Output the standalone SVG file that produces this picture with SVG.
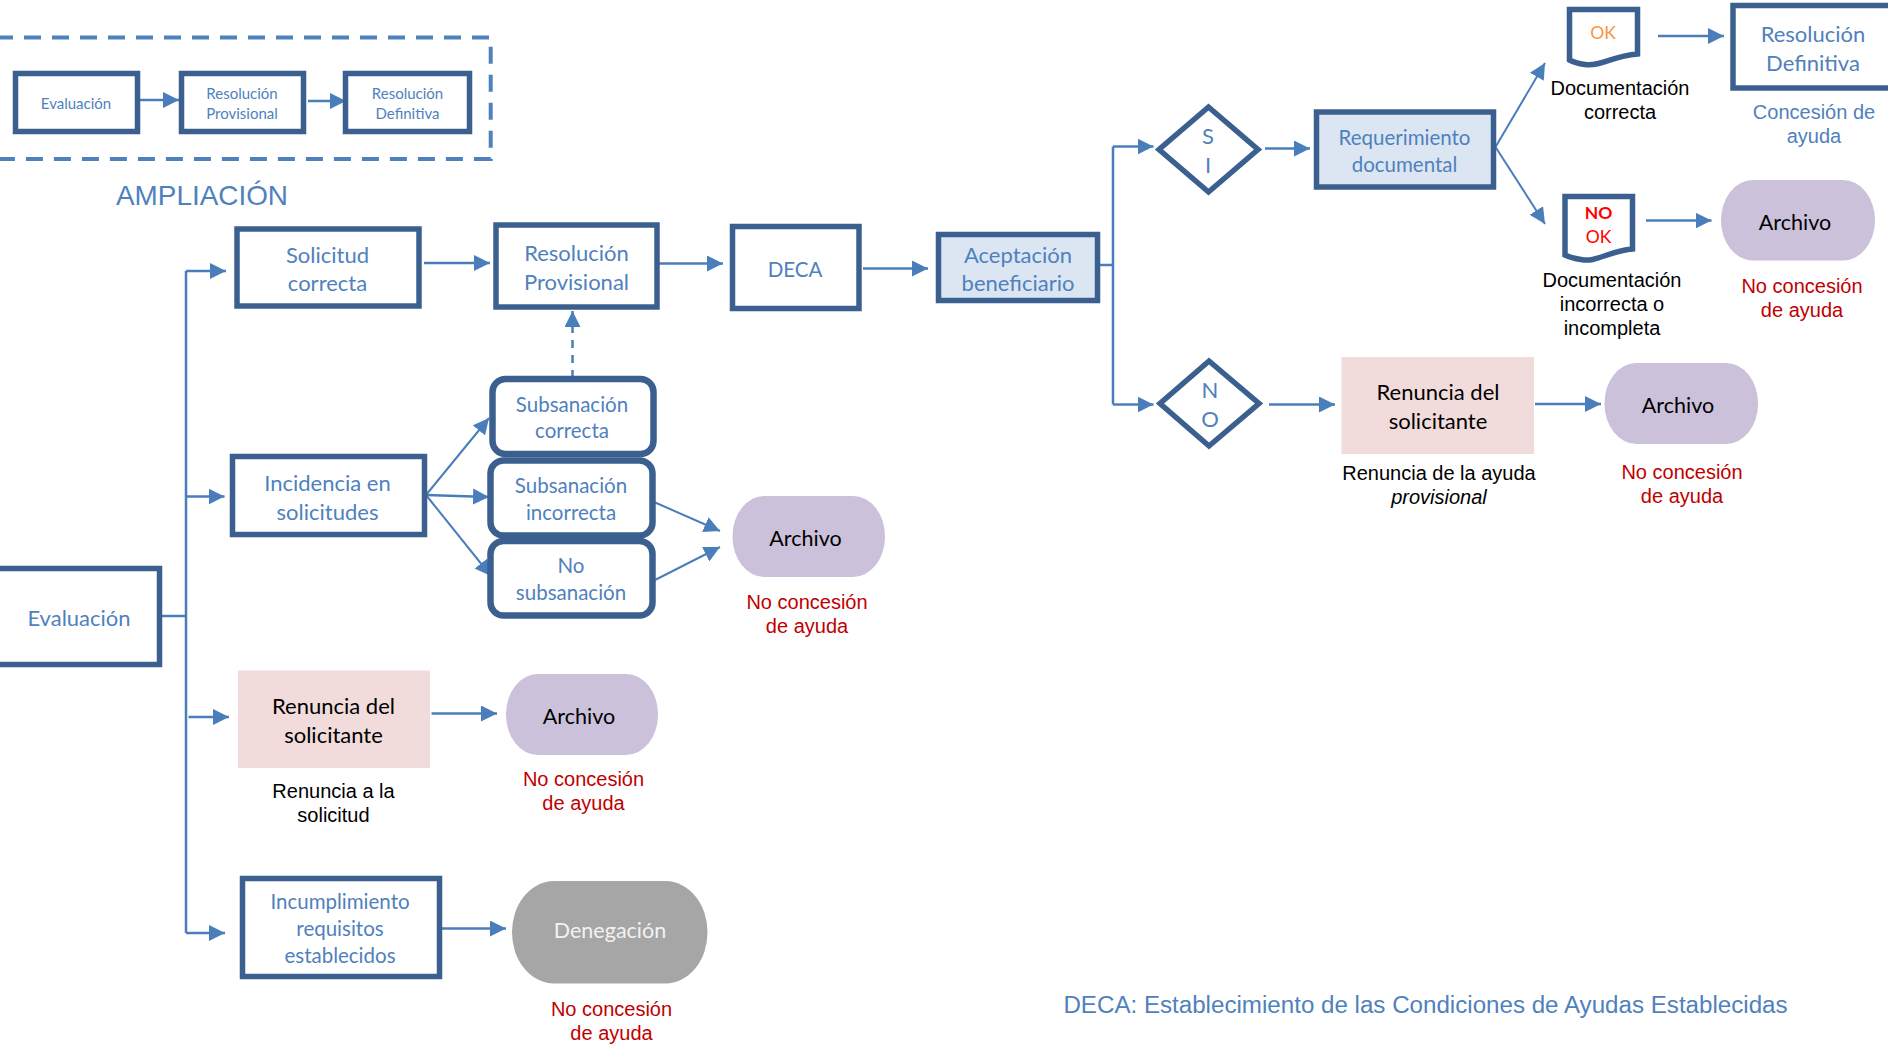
<svg xmlns="http://www.w3.org/2000/svg" width="1888" height="1049" viewBox="0 0 1888 1049">
<style>
text{text-anchor:middle}
.l{font-family:"Lato","Open Sans",sans-serif;font-size:22px}
.a{font-family:"Liberation Sans",Arial,sans-serif;font-size:20px}
.blue{fill:#4f81bd}.black{fill:#000}.red{fill:#c00000}
.s{font-size:15px}.m{font-size:20.500px}.n{font-size:21.500px}
.box{fill:#fff;stroke:#3b608f;stroke-width:5.500}
.rnd{fill:#fff;stroke:#3b608f;stroke-width:6.500}
.pale{fill:#dce6f2;stroke:#3b608f;stroke-width:5.500}
.pink{fill:#f2dcdb}.arch{fill:#ccc1da}.den{fill:#a6a6a6}
.c{fill:none;stroke:#4a7ebb;stroke-width:2.500;marker-end:url(#h)}
.t{fill:none;stroke:#4a7ebb;stroke-width:2.500}
</style>
<defs>
<marker id="h" markerUnits="userSpaceOnUse" markerWidth="16" markerHeight="16" refX="16" refY="8" orient="auto"><path d="M0 0L16 8L0 16Z" fill="#4a7ebb"/></marker>
</defs>
<rect width="1888" height="1049" fill="#fff"/>
<g id="connectors">
<path d="M-4 37.500H490.700V159H-4" fill="none" stroke="#4f81bd" stroke-width="4" stroke-dasharray="17 11"/>
<path class="c" d="M140 100H179"/><path class="c" d="M308 101H346"/>
<path class="t" d="M161 616H186"/><path class="t" d="M186 271V933"/>
<path class="c" d="M186 271H226"/><path class="c" d="M186 496.500H224.500"/><path class="c" d="M188.500 717H229"/><path class="c" d="M186 933H225"/>
<path class="c" d="M424 263H490"/><path class="c" d="M659 263.500H723"/><path class="c" d="M863 268.500H928"/>
<path class="c" d="M572.500 378V311" stroke-dasharray="8 7"/>
<path class="c" style="stroke-width:2" d="M426 495L489 418"/><path class="c" d="M426 495L489 497"/><path class="c" style="stroke-width:2" d="M426 495L491 576"/>
<path class="c" style="stroke-width:2" d="M654 502L720 531"/><path class="c" style="stroke-width:2" d="M655 580L720 547"/>
<path class="c" d="M431.500 713.500H497"/><path class="c" d="M442 928.500H506"/>
<path class="t" d="M1099 265H1113"/><path class="t" d="M1113 146.500V404.500"/>
<path class="c" d="M1113 146.500H1153.500"/><path class="c" d="M1113 404.500H1153.500"/>
<path class="c" d="M1265 148.500H1310"/><path class="c" d="M1269 404.500H1335"/><path class="c" d="M1535 404H1601"/>
<path class="c" style="stroke-width:2" d="M1495.500 147L1545 63"/><path class="c" style="stroke-width:2" d="M1495.500 147L1545 224"/>
<path class="c" d="M1658 36H1724"/><path class="c" d="M1646 220.600H1711.500"/>
</g>
<g id="n-evaluacion-small"><rect class="box" x="15.500" y="73.500" width="122" height="58"/><text class="l blue s" x="76" y="109">Evaluación</text></g>
<g id="n-provisional-small"><rect class="box" x="181.500" y="73.500" width="122" height="58"/><text class="l blue s" x="242" y="99">Resolución</text><text class="l blue s" x="242" y="119">Provisional</text></g>
<g id="n-definitiva-small"><rect class="box" x="345.500" y="73.500" width="124" height="58"/><text class="l blue s" x="407.500" y="99">Resolución</text><text class="l blue s" x="407.500" y="119">Definitiva</text></g>
<text id="ampliacion" class="a blue" style="font-size:27.900px" x="202" y="204.500">AMPLIACIÓN</text>
<g id="n-solicitud"><rect class="box" x="237" y="229" width="182" height="77"/><text class="l blue" x="327.500" y="262.500">Solicitud</text><text class="l blue" x="327.500" y="291">correcta</text></g>
<g id="n-provisional"><rect class="box" x="496" y="225" width="161" height="82"/><text class="l blue" x="576.500" y="261">Resolución</text><text class="l blue" x="576.500" y="290">Provisional</text></g>
<g id="n-deca"><rect class="box" x="732.500" y="226.500" width="126.500" height="82"/><text class="l blue" style="font-size:20.500px" x="795" y="277">DECA</text></g>
<g id="n-aceptacion"><rect class="pale" x="938.500" y="234.500" width="159" height="66"/><text class="l blue" x="1018" y="262.500">Aceptación</text><text class="l blue" x="1018" y="291">beneficiario</text></g>
<g id="n-evaluacion"><rect class="box" x="-10" y="568.500" width="169.500" height="96"/><text class="l blue" x="79" y="626">Evaluación</text></g>
<g id="n-incidencia"><rect class="box" x="232.500" y="456.500" width="192" height="78"/><text class="l blue" x="327.500" y="491">Incidencia en</text><text class="l blue" x="327.500" y="519.500">solicitudes</text></g>
<g id="n-sub-correcta"><rect class="rnd" x="492.500" y="379" width="161" height="75" rx="13"/><text class="l blue m" x="572" y="411.500">Subsanación</text><text class="l blue m" x="572" y="437.500">correcta</text></g>
<g id="n-sub-incorrecta"><rect class="rnd" x="490.500" y="460.500" width="162" height="75" rx="13"/><text class="l blue m" x="571" y="493">Subsanación</text><text class="l blue m" x="571" y="520">incorrecta</text></g>
<g id="n-no-sub"><rect class="rnd" x="490.500" y="541" width="162" height="74.500" rx="13"/><text class="l blue m" x="571" y="572.500">No</text><text class="l blue m" x="571" y="600">subsanación</text></g>
<g id="n-archivo-1"><rect class="arch" x="732.500" y="496" width="152.500" height="81" rx="32" ry="40"/><text class="l black n" x="805.500" y="546">Archivo</text></g>
<g id="l-noconc-1" class="a red"><text x="807" y="609">No concesión</text><text x="807" y="633">de ayuda</text></g>
<g id="n-renuncia-1"><rect class="pink" x="238" y="670.500" width="192" height="97.500"/><text class="l black" x="333.500" y="714">Renuncia del</text><text class="l black" x="333.500" y="742.500">solicitante</text></g>
<g id="l-renuncia-1" class="a black"><text x="333.500" y="797.500">Renuncia a la</text><text x="333.500" y="822">solicitud</text></g>
<g id="n-archivo-2"><rect class="arch" x="506" y="674" width="152" height="81" rx="32" ry="40"/><text class="l black n" x="579" y="724">Archivo</text></g>
<g id="l-noconc-2" class="a red"><text x="583.500" y="785.500">No concesión</text><text x="583.500" y="809.500">de ayuda</text></g>
<g id="n-incumplimiento"><rect class="box" x="242.500" y="878.500" width="197" height="98"/><text class="l blue m" x="340" y="909">Incumplimiento</text><text class="l blue m" x="340" y="936">requisitos</text><text class="l blue m" x="340" y="962.500">establecidos</text></g>
<g id="n-denegacion"><rect class="den" x="512" y="881" width="195.500" height="102.500" rx="42" ry="51"/><text class="l n" style="fill:#f2f2f2" x="610" y="937.500">Denegación</text></g>
<g id="l-noconc-3" class="a red"><text x="611.500" y="1015.500">No concesión</text><text x="611.500" y="1040">de ayuda</text></g>
<g id="n-si"><path class="box" d="M1208.500 107L1258 149.500L1208.500 192L1159 149.500Z"/><text class="l blue" x="1208" y="144">S</text><text class="l blue" x="1208" y="172.500">I</text></g>
<g id="n-no"><path class="box" d="M1209 361L1259 403.500L1209 446L1160 403.500Z"/><text class="l blue" x="1210" y="398">N</text><text class="l blue" x="1210" y="426.500">O</text></g>
<g id="n-requerimiento"><rect class="pale" x="1316.500" y="112" width="177" height="75"/><text class="l blue m" x="1404.500" y="144.600">Requerimiento</text><text class="l blue m" x="1404.500" y="172.400">documental</text></g>
<g id="n-renuncia-2"><rect class="pink" x="1341.500" y="357" width="192.500" height="97"/><text class="l black" x="1438" y="400">Renuncia del</text><text class="l black" x="1438" y="429">solicitante</text></g>
<g id="l-renuncia-2" class="a black"><text x="1439" y="480.400">Renuncia de la ayuda</text><text x="1439" y="504" font-style="italic">provisional</text></g>
<g id="n-archivo-3"><rect class="arch" x="1604.500" y="363" width="153.500" height="81" rx="32" ry="40"/><text class="l black n" x="1678" y="413">Archivo</text></g>
<g id="l-noconc-4" class="a red"><text x="1682" y="479">No concesión</text><text x="1682" y="503">de ayuda</text></g>
<g id="n-doc-ok"><path class="box" d="M1569.500 9.500H1637.500V54C1612 56 1600 67 1585 64.500C1578 63.500 1573 62 1569.500 60Z"/><text class="l" style="font-size:17.500px;fill:#f79646" x="1603" y="39">OK</text></g>
<g id="l-doc-ok" class="a black"><text x="1620" y="94.700">Documentación</text><text x="1620" y="118.500">correcta</text></g>
<g id="n-definitiva"><rect class="box" x="1733" y="5.500" width="165" height="82.500"/><text class="l blue" x="1813" y="42">Resolución</text><text class="l blue" x="1813" y="71">Definitiva</text></g>
<g id="l-concesion" class="a blue"><text x="1814" y="119">Concesión de</text><text x="1814" y="142.600">ayuda</text></g>
<g id="n-doc-nok"><path class="box" d="M1565 196.500H1632.500V249C1608 251 1596 263 1581 259.500C1574 258.500 1569 257 1565 255Z"/><text class="l" style="font-size:17.500px;font-weight:700;fill:#f00" x="1598.500" y="219">NO</text><text class="l" style="font-size:17.500px;fill:#f00" x="1598.500" y="243">OK</text></g>
<g id="l-doc-nok" class="a black"><text x="1612" y="286.600">Documentación</text><text x="1612" y="310.700">incorrecta o</text><text x="1612" y="334.800">incompleta</text></g>
<g id="n-archivo-4"><rect class="arch" x="1721" y="180" width="154" height="80.500" rx="32" ry="40"/><text class="l black n" x="1795" y="229.700">Archivo</text></g>
<g id="l-noconc-5" class="a red"><text x="1802" y="293">No concesión</text><text x="1802" y="317">de ayuda</text></g>
<text id="footnote" class="a blue" style="font-size:24.150px" x="1425.500" y="1013">DECA: Establecimiento de las Condiciones de Ayudas Establecidas</text>
</svg>
